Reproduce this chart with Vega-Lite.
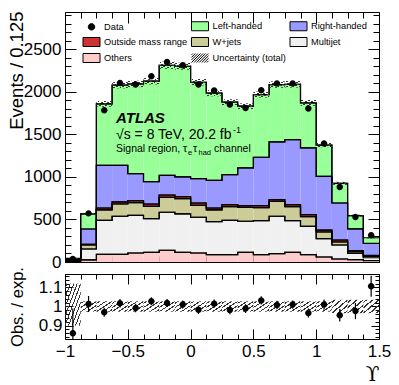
{
"$schema": "https://vega.github.io/schema/vega-lite/v6.json",
"padding": {"left": 6, "top": 10, "right": 0, "bottom": 0},
"background": "white",
"config": {
  "font": "Liberation Sans",
  "view": {"stroke": "black", "strokeWidth": 1},
  "axis": {"grid": false, "domain": false, "tickColor": "black", "tickWidth": 1, "labelColor": "black", "titleColor": "black", "labelFont": "Liberation Sans", "titleFont": "Liberation Sans", "titleFontWeight": "normal", "labelFontSize": 17, "labelFlush": false, "labelOverlap": false, "zindex": 1},
  "legend": {"orient": "none", "legendX": 17.5, "legendY": 5, "columns": 3, "symbolSize": 289, "labelFont": "Liberation Sans", "labelFontSize": 9.3, "labelColor": "black", "labelOffset": 3.5, "columnPadding": 1.5, "rowPadding": -12, "labelLimit": 300, "padding": 0, "symbolStrokeColor": "black", "symbolStrokeWidth": 1, "symbolOpacity": 1, "gridAlign": "each"}
},
"datasets": {
  "levels": [
    {"comp": "Others", "lvl": 1}, {"comp": "Multijet", "lvl": 2}, {"comp": "W+jets", "lvl": 3},
    {"comp": "Outside mass range", "lvl": 4}, {"comp": "Right-handed", "lvl": 5}, {"comp": "Left-handed", "lvl": 6}
  ],
  "bins": [
    {"lo": -1, "hi": -0.875, "c": -0.9375, "Others": 5, "Multijet": 15, "W+jets": 5, "Outside mass range": 3, "Right-handed": 8, "Left-handed": 6, "Data": 36, "ratio": 0.86, "ulo": 38, "uhi": 47, "rlo": 0.9, "rhi": 1.12, "elo": 0.78, "ehi": 0.99},
    {"lo": -0.875, "hi": -0.75, "c": -0.8125, "Others": 25, "Multijet": 128, "W+jets": 47, "Outside mass range": 8, "Right-handed": 180, "Left-handed": 177, "Data": 572, "ratio": 1.013, "ulo": 555, "uhi": 575, "rlo": 0.973, "rhi": 1.027, "elo": 0.971, "ehi": 1.055},
    {"lo": -0.75, "hi": -0.625, "c": -0.6875, "Others": 90, "Multijet": 400, "W+jets": 122, "Outside mass range": 23, "Right-handed": 501, "Left-handed": 723, "Data": 1785, "ratio": 0.97, "ulo": 1826, "uhi": 1892, "rlo": 0.973, "rhi": 1.027, "elo": 0.946, "ehi": 0.994},
    {"lo": -0.625, "hi": -0.5, "c": -0.5625, "Others": 90, "Multijet": 448, "W+jets": 144, "Outside mass range": 24, "Right-handed": 430, "Left-handed": 943, "Data": 2106, "ratio": 1.017, "ulo": 2042, "uhi": 2116, "rlo": 0.973, "rhi": 1.027, "elo": 0.995, "ehi": 1.039},
    {"lo": -0.5, "hi": -0.375, "c": -0.4375, "Others": 106, "Multijet": 443, "W+jets": 150, "Outside mass range": 23, "Right-handed": 318, "Left-handed": 1054, "Data": 2087, "ratio": 0.992, "ulo": 2056, "uhi": 2132, "rlo": 0.973, "rhi": 1.027, "elo": 0.970, "ehi": 1.014},
    {"lo": -0.375, "hi": -0.25, "c": -0.3125, "Others": 114, "Multijet": 396, "W+jets": 145, "Outside mass range": 27, "Right-handed": 263, "Left-handed": 1181, "Data": 2185, "ratio": 1.027, "ulo": 2088, "uhi": 2164, "rlo": 0.973, "rhi": 1.027, "elo": 1.006, "ehi": 1.048},
    {"lo": -0.25, "hi": -0.125, "c": -0.1875, "Others": 138, "Multijet": 447, "W+jets": 176, "Outside mass range": 27, "Right-handed": 230, "Left-handed": 1296, "Data": 2353, "ratio": 1.018, "ulo": 2272, "uhi": 2356, "rlo": 0.973, "rhi": 1.027, "elo": 0.997, "ehi": 1.039},
    {"lo": -0.125, "hi": 0, "c": -0.0625, "Others": 114, "Multijet": 451, "W+jets": 181, "Outside mass range": 23, "Right-handed": 231, "Left-handed": 1302, "Data": 2314, "ratio": 1.01, "ulo": 2261, "uhi": 2343, "rlo": 0.973, "rhi": 1.027, "elo": 0.989, "ehi": 1.031},
    {"lo": 0, "hi": 0.125, "c": 0.0625, "Others": 106, "Multijet": 420, "W+jets": 141, "Outside mass range": 27, "Right-handed": 287, "Left-handed": 1133, "Data": 2087, "ratio": 0.983, "ulo": 2076, "uhi": 2152, "rlo": 0.973, "rhi": 1.027, "elo": 0.961, "ehi": 1.005},
    {"lo": 0.125, "hi": 0.25, "c": 0.1875, "Others": 87, "Multijet": 388, "W+jets": 137, "Outside mass range": 23, "Right-handed": 325, "Left-handed": 1025, "Data": 2016, "ratio": 1.015, "ulo": 1949, "uhi": 2021, "rlo": 0.973, "rhi": 1.027, "elo": 0.993, "ehi": 1.037},
    {"lo": 0.25, "hi": 0.375, "c": 0.3125, "Others": 87, "Multijet": 403, "W+jets": 162, "Outside mass range": 23, "Right-handed": 353, "Left-handed": 852, "Data": 1852, "ratio": 0.982, "ulo": 1846, "uhi": 1914, "rlo": 0.973, "rhi": 1.027, "elo": 0.959, "ehi": 1.005},
    {"lo": 0.375, "hi": 0.5, "c": 0.4375, "Others": 114, "Multijet": 365, "W+jets": 164, "Outside mass range": 20, "Right-handed": 443, "Left-handed": 726, "Data": 1812, "ratio": 0.989, "ulo": 1799, "uhi": 1865, "rlo": 0.973, "rhi": 1.027, "elo": 0.966, "ehi": 1.012},
    {"lo": 0.5, "hi": 0.625, "c": 0.5625, "Others": 87, "Multijet": 400, "W+jets": 153, "Outside mass range": 23, "Right-handed": 569, "Left-handed": 737, "Data": 2020, "ratio": 1.032, "ulo": 1934, "uhi": 2004, "rlo": 0.973, "rhi": 1.027, "elo": 1.01, "ehi": 1.054},
    {"lo": 0.625, "hi": 0.75, "c": 0.6875, "Others": 99, "Multijet": 439, "W+jets": 176, "Outside mass range": 20, "Right-handed": 678, "Left-handed": 675, "Data": 2100, "ratio": 1.008, "ulo": 2049, "uhi": 2125, "rlo": 0.973, "rhi": 1.027, "elo": 0.986, "ehi": 1.03},
    {"lo": 0.75, "hi": 0.875, "c": 0.8125, "Others": 114, "Multijet": 373, "W+jets": 165, "Outside mass range": 23, "Right-handed": 765, "Left-handed": 650, "Data": 2099, "ratio": 1.01, "ulo": 2052, "uhi": 2128, "rlo": 0.973, "rhi": 1.027, "elo": 0.988, "ehi": 1.032},
    {"lo": 0.875, "hi": 1, "c": 0.9375, "Others": 87, "Multijet": 333, "W+jets": 114, "Outside mass range": 24, "Right-handed": 783, "Left-handed": 530, "Data": 1805, "ratio": 0.966, "ulo": 1837, "uhi": 1905, "rlo": 0.973, "rhi": 1.027, "elo": 0.943, "ehi": 0.989},
    {"lo": 1, "hi": 1.125, "c": 1.0625, "Others": 59, "Multijet": 216, "W+jets": 78, "Outside mass range": 23, "Right-handed": 632, "Left-handed": 367, "Data": 1393, "ratio": 1.01, "ulo": 1350, "uhi": 1400, "rlo": 0.973, "rhi": 1.027, "elo": 0.983, "ehi": 1.037},
    {"lo": 1.125, "hi": 1.25, "c": 1.1875, "Others": 35, "Multijet": 165, "W+jets": 35, "Outside mass range": 24, "Right-handed": 435, "Left-handed": 231, "Data": 882, "ratio": 0.954, "ulo": 907, "uhi": 943, "rlo": 0.965, "rhi": 1.035, "elo": 0.921, "ehi": 0.987},
    {"lo": 1.25, "hi": 1.375, "c": 1.3125, "Others": 28, "Multijet": 72, "W+jets": 18, "Outside mass range": 16, "Right-handed": 256, "Left-handed": 155, "Data": 530, "ratio": 0.976, "ulo": 534, "uhi": 556, "rlo": 0.965, "rhi": 1.035, "elo": 0.934, "ehi": 1.018},
    {"lo": 1.375, "hi": 1.5, "c": 1.4375, "Others": 16, "Multijet": 34, "W+jets": 17, "Outside mass range": 12, "Right-handed": 141, "Left-handed": 65, "Data": 315, "ratio": 1.106, "ulo": 278, "uhi": 292, "rlo": 0.965, "rhi": 1.035, "elo": 1.051, "ehi": 1.161}
  ]
},
"spacing": 12,
"bounds": "flush",
"vconcat": [
 {
  "width": 314, "height": 250,
  "resolve": {"axis": {"x": "independent", "y": "independent"}},
  "layer": [
   {
    "data": {"name": "bins"},
    "transform": [
      {"fold": ["Others", "Multijet", "W+jets", "Outside mass range", "Right-handed", "Left-handed"], "as": ["comp", "n"]},
      {"lookup": "comp", "from": {"data": {"name": "levels"}, "key": "comp", "fields": ["lvl"]}},
      {"stack": "n", "groupby": ["lo"], "sort": [{"field": "lvl", "order": "ascending"}], "as": ["y0", "y1"]}
    ],
    "mark": {"type": "rect"},
    "encoding": {
      "x": {"field": "lo", "type": "quantitative", "scale": {"domain": [-1, 1.5], "nice": false, "zero": false}, "axis": {"orient": "bottom", "values": [-1, -0.5, 0, 0.5, 1, 1.5], "labels": false, "tickSize": -11, "title": null}},
      "x2": {"field": "hi"},
      "y": {"field": "y0", "type": "quantitative", "scale": {"domain": [0, 2940], "nice": false, "zero": false}, "axis": {"orient": "left", "values": [0, 500, 1000, 1500, 2000, 2500], "format": "d", "tickSize": -11, "labelPadding": 15, "title": "Events / 0.125", "titleFontSize": 18.5, "titleX": -43, "titleY": -1, "titleAlign": "right", "titleBaseline": "alphabetic", "titleAngle": 270}},
      "y2": {"field": "y1"},
      "fill": {"field": "comp", "type": "nominal", "title": null, "scale": {"domain": ["Data", "Outside mass range", "Others", "Left-handed", "W+jets", "Uncertainty (total)", "Right-handed", "Multijet"], "range": ["black", "#cc3333", "#ffcccc", "#99ff99", "#cccc99", "transparent", "#9999ff", "#f0f0f0"]}}
    }
   },
   {
    "data": {"name": "bins"},
    "transform": [
      {"fold": ["Others", "Multijet", "W+jets", "Outside mass range", "Right-handed", "Left-handed"], "as": ["comp", "n"]},
      {"lookup": "comp", "from": {"data": {"name": "levels"}, "key": "comp", "fields": ["lvl"]}},
      {"stack": "n", "groupby": ["lo"], "sort": [{"field": "lvl", "order": "ascending"}], "as": ["y0", "y1"]}
    ],
    "mark": {"type": "line", "interpolate": "step-after", "color": "black", "strokeWidth": 1.2},
    "encoding": {
      "x": {"field": "lo", "type": "quantitative", "scale": {"domain": [-1, 1.5], "nice": false, "zero": false}, "axis": {"orient": "bottom", "values": [-0.875, -0.75, -0.625, -0.375, -0.25, -0.125, 0.125, 0.25, 0.375, 0.625, 0.75, 0.875, 1.125, 1.25, 1.375], "labels": false, "tickSize": -6, "title": null}},
      "y": {"field": "y1", "type": "quantitative", "scale": {"domain": [0, 2940], "nice": false, "zero": false}, "axis": {"orient": "left", "values": [100, 200, 300, 400, 600, 700, 800, 900, 1100, 1200, 1300, 1400, 1600, 1700, 1800, 1900, 2100, 2200, 2300, 2400, 2600, 2700, 2800, 2900], "labels": false, "tickSize": -6, "title": null}},
      "detail": {"field": "comp", "type": "nominal"}
    }
   },
   {
    "data": {"name": "bins"},
    "transform": [
      {"fold": ["Others", "Multijet", "W+jets", "Outside mass range", "Right-handed", "Left-handed"], "as": ["comp", "n"]},
      {"lookup": "comp", "from": {"data": {"name": "levels"}, "key": "comp", "fields": ["lvl"]}},
      {"stack": "n", "groupby": ["lo"], "sort": [{"field": "lvl", "order": "ascending"}], "as": ["y0", "y1"]}
    ],
    "mark": {"type": "line", "interpolate": "step-before", "color": "black", "strokeWidth": 1.2},
    "encoding": {
      "x": {"field": "hi", "type": "quantitative", "scale": {"domain": [-1, 1.5], "nice": false, "zero": false}, "axis": {"orient": "top", "values": [-1, -0.5, 0, 0.5, 1, 1.5], "labels": false, "tickSize": -11, "title": null}},
      "y": {"field": "y1", "type": "quantitative", "scale": {"domain": [0, 2940], "nice": false, "zero": false}, "axis": {"orient": "right", "values": [0, 500, 1000, 1500, 2000, 2500], "labels": false, "tickSize": -11, "title": null}},
      "detail": {"field": "comp", "type": "nominal"}
    }
   },
   {
    "data": {"name": "bins"},
    "mark": {"type": "rect", "fill": {"gradient": "linear", "x1": 0, "y1": 0, "x2": 1, "y2": 1, "stops": [
      {"offset": 0, "color": "rgba(255,255,255,0)"}, {"offset": 0.07, "color": "rgba(255,255,255,0)"}, {"offset": 0.07, "color": "#333"}, {"offset": 0.13, "color": "#333"}, {"offset": 0.13, "color": "rgba(255,255,255,0)"},
      {"offset": 0.27, "color": "rgba(255,255,255,0)"}, {"offset": 0.27, "color": "#333"}, {"offset": 0.33, "color": "#333"}, {"offset": 0.33, "color": "rgba(255,255,255,0)"},
      {"offset": 0.47, "color": "rgba(255,255,255,0)"}, {"offset": 0.47, "color": "#333"}, {"offset": 0.53, "color": "#333"}, {"offset": 0.53, "color": "rgba(255,255,255,0)"},
      {"offset": 0.67, "color": "rgba(255,255,255,0)"}, {"offset": 0.67, "color": "#333"}, {"offset": 0.73, "color": "#333"}, {"offset": 0.73, "color": "rgba(255,255,255,0)"},
      {"offset": 0.87, "color": "rgba(255,255,255,0)"}, {"offset": 0.87, "color": "#333"}, {"offset": 0.93, "color": "#333"}, {"offset": 0.93, "color": "rgba(255,255,255,0)"}, {"offset": 1, "color": "rgba(255,255,255,0)"}]}},
    "encoding": {
      "x": {"field": "lo", "type": "quantitative", "scale": {"domain": [-1, 1.5], "nice": false, "zero": false}, "axis": {"orient": "top", "values": [-0.875, -0.75, -0.625, -0.375, -0.25, -0.125, 0.125, 0.25, 0.375, 0.625, 0.75, 0.875, 1.125, 1.25, 1.375], "labels": false, "tickSize": -6, "title": null}},
      "x2": {"field": "hi"},
      "y": {"field": "ulo", "type": "quantitative", "scale": {"domain": [0, 2940], "nice": false, "zero": false}, "axis": {"orient": "right", "values": [100, 200, 300, 400, 600, 700, 800, 900, 1100, 1200, 1300, 1400, 1600, 1700, 1800, 1900, 2100, 2200, 2300, 2400, 2600, 2700, 2800, 2900], "labels": false, "tickSize": -6, "title": null}},
      "y2": {"field": "uhi"}
    }
   },
   {
    "data": {"name": "bins"},
    "transform": [{"fold": ["Data"], "as": ["comp", "v"]}],
    "mark": {"type": "point", "filled": true, "size": 289, "opacity": 1},
    "encoding": {
      "x": {"field": "c", "type": "quantitative", "scale": {"domain": [-1, 1.5], "nice": false, "zero": false}, "axis": null},
      "y": {"field": "v", "type": "quantitative", "scale": {"domain": [0, 2940], "nice": false, "zero": false}, "axis": null},
      "fill": {"field": "comp", "type": "nominal", "title": null,
        "scale": {"domain": ["Data", "Outside mass range", "Others", "Left-handed", "W+jets", "Uncertainty (total)", "Right-handed", "Multijet"], "range": ["black", "#cc3333", "#ffcccc", "#99ff99", "#cccc99", "transparent", "#9999ff", "#f0f0f0"]},
        "legend": {"encode": {"symbols": {"update": {"stroke": {"value": "black"}, "strokeWidth": {"value": 1}, "opacity": {"value": 1}}}}}},
      "shape": {"field": "comp", "type": "nominal", "title": null,
        "scale": {"domain": ["Data", "Outside mass range", "Others", "Left-handed", "W+jets", "Uncertainty (total)", "Right-handed", "Multijet"], "range": [
          "M-0.38,0A0.38,0.38,0,1,1,0.38,0A0.38,0.38,0,1,1,-0.38,0Z",
          "M-1,-0.53L1,-0.53L1,0.53L-1,0.53Z", "M-1,-0.53L1,-0.53L1,0.53L-1,0.53Z", "M-1,-0.53L1,-0.53L1,0.53L-1,0.53Z",
          "M-1,-0.53L1,-0.53L1,0.53L-1,0.53Z",
          "M-1,-0.37L-0.84,-0.53M-1,-0.07L-0.54,-0.53M-1,0.23L-0.24,-0.53M-1,0.53L0.06,-0.53M-0.7,0.53L0.36,-0.53M-0.4,0.53L0.66,-0.53M-0.1,0.53L0.96,-0.53M0.2,0.53L1,-0.27M0.5,0.53L1,0.03M0.8,0.53L1,0.33",
          "M-1,-0.53L1,-0.53L1,0.53L-1,0.53Z", "M-1,-0.53L1,-0.53L1,0.53L-1,0.53Z"]},
        "legend": {"encode": {"symbols": {"update": {"stroke": {"value": "black"}, "strokeWidth": {"value": 1}, "opacity": {"value": 1}}}}}}
    }
   },
   {
    "data": {"values": [{}]},
    "mark": {"type": "text", "text": "ATLAS", "align": "left", "baseline": "alphabetic", "font": "Liberation Sans", "fontSize": 15, "fontStyle": "italic", "fontWeight": "bold", "color": "black"},
    "encoding": {"x": {"datum": -0.594, "type": "quantitative", "scale": {"domain": [-1, 1.5], "nice": false, "zero": false}, "axis": null}, "y": {"datum": 1635, "type": "quantitative", "scale": {"domain": [0, 2940], "nice": false, "zero": false}, "axis": null}}
   },
   {
    "data": {"values": [{}]},
    "mark": {"type": "text", "text": "√s = 8 TeV, 20.2 fb", "align": "left", "baseline": "alphabetic", "font": "Liberation Sans", "fontSize": 14, "color": "black"},
    "encoding": {"x": {"datum": -0.594, "type": "quantitative", "scale": {"domain": [-1, 1.5], "nice": false, "zero": false}, "axis": null}, "y": {"datum": 1444, "type": "quantitative", "scale": {"domain": [0, 2940], "nice": false, "zero": false}, "axis": null}}
   },
   {
    "data": {"values": [{}]},
    "mark": {"type": "text", "text": "-1", "align": "left", "baseline": "alphabetic", "font": "Liberation Sans", "fontSize": 9, "color": "black", "dx": 117, "dy": -6},
    "encoding": {"x": {"datum": -0.594, "type": "quantitative", "scale": {"domain": [-1, 1.5], "nice": false, "zero": false}, "axis": null}, "y": {"datum": 1444, "type": "quantitative", "scale": {"domain": [0, 2940], "nice": false, "zero": false}, "axis": null}}
   },
   {
    "data": {"values": [{}]},
    "mark": {"type": "text", "text": "Signal region, τ", "align": "left", "baseline": "alphabetic", "font": "Liberation Sans", "fontSize": 10.5, "color": "black"},
    "encoding": {"x": {"datum": -0.594, "type": "quantitative", "scale": {"domain": [-1, 1.5], "nice": false, "zero": false}, "axis": null}, "y": {"datum": 1290, "type": "quantitative", "scale": {"domain": [0, 2940], "nice": false, "zero": false}, "axis": null}}
   },
   {
    "data": {"values": [{}]},
    "mark": {"type": "text", "text": "e", "align": "left", "baseline": "alphabetic", "font": "Liberation Sans", "fontSize": 7.5, "color": "black", "dx": 72, "dy": 3},
    "encoding": {"x": {"datum": -0.594, "type": "quantitative", "scale": {"domain": [-1, 1.5], "nice": false, "zero": false}, "axis": null}, "y": {"datum": 1290, "type": "quantitative", "scale": {"domain": [0, 2940], "nice": false, "zero": false}, "axis": null}}
   },
   {
    "data": {"values": [{}]},
    "mark": {"type": "text", "text": "τ", "align": "left", "baseline": "alphabetic", "font": "Liberation Sans", "fontSize": 10.5, "color": "black", "dx": 77},
    "encoding": {"x": {"datum": -0.594, "type": "quantitative", "scale": {"domain": [-1, 1.5], "nice": false, "zero": false}, "axis": null}, "y": {"datum": 1290, "type": "quantitative", "scale": {"domain": [0, 2940], "nice": false, "zero": false}, "axis": null}}
   },
   {
    "data": {"values": [{}]},
    "mark": {"type": "text", "text": "had", "align": "left", "baseline": "alphabetic", "font": "Liberation Sans", "fontSize": 7.5, "color": "black", "dx": 82.5, "dy": 3},
    "encoding": {"x": {"datum": -0.594, "type": "quantitative", "scale": {"domain": [-1, 1.5], "nice": false, "zero": false}, "axis": null}, "y": {"datum": 1290, "type": "quantitative", "scale": {"domain": [0, 2940], "nice": false, "zero": false}, "axis": null}}
   },
   {
    "data": {"values": [{}]},
    "mark": {"type": "text", "text": "channel", "align": "left", "baseline": "alphabetic", "font": "Liberation Sans", "fontSize": 10.5, "color": "black", "dx": 98},
    "encoding": {"x": {"datum": -0.594, "type": "quantitative", "scale": {"domain": [-1, 1.5], "nice": false, "zero": false}, "axis": null}, "y": {"datum": 1290, "type": "quantitative", "scale": {"domain": [0, 2940], "nice": false, "zero": false}, "axis": null}}
   }
  ]
 },
 {
  "width": 314, "height": 65,
  "data": {"name": "bins"},
  "resolve": {"axis": {"x": "independent", "y": "independent"}},
  "layer": [
   {
    "transform": [{"filter": "datum.lo > -0.95"}],
    "mark": {"type": "rect", "fill": {"gradient": "linear", "x1": 0, "y1": 0, "x2": 1, "y2": 1, "stops": [
      {"offset": 0, "color": "rgba(255,255,255,0)"}, {"offset": 0.07, "color": "rgba(255,255,255,0)"}, {"offset": 0.07, "color": "#333"}, {"offset": 0.13, "color": "#333"}, {"offset": 0.13, "color": "rgba(255,255,255,0)"},
      {"offset": 0.27, "color": "rgba(255,255,255,0)"}, {"offset": 0.27, "color": "#333"}, {"offset": 0.33, "color": "#333"}, {"offset": 0.33, "color": "rgba(255,255,255,0)"},
      {"offset": 0.47, "color": "rgba(255,255,255,0)"}, {"offset": 0.47, "color": "#333"}, {"offset": 0.53, "color": "#333"}, {"offset": 0.53, "color": "rgba(255,255,255,0)"},
      {"offset": 0.67, "color": "rgba(255,255,255,0)"}, {"offset": 0.67, "color": "#333"}, {"offset": 0.73, "color": "#333"}, {"offset": 0.73, "color": "rgba(255,255,255,0)"},
      {"offset": 0.87, "color": "rgba(255,255,255,0)"}, {"offset": 0.87, "color": "#333"}, {"offset": 0.93, "color": "#333"}, {"offset": 0.93, "color": "rgba(255,255,255,0)"}, {"offset": 1, "color": "rgba(255,255,255,0)"}]}},
    "encoding": {
      "x": {"field": "lo", "type": "quantitative", "scale": {"domain": [-1, 1.5], "nice": false, "zero": false}, "axis": {"orient": "bottom", "values": [-1, -0.5, 0, 0.5, 1, 1.5], "format": "~g", "tickSize": -10, "labelPadding": 14, "title": "ϒ", "titleFont": "DejaVu Serif", "titleFontSize": 20, "titleX": 314, "titleY": 41, "titleAlign": "right", "titleBaseline": "alphabetic", "titleAngle": 0}},
      "x2": {"field": "hi"},
      "y": {"field": "rlo", "type": "quantitative", "scale": {"domain": [0.83, 1.17], "nice": false, "zero": false}, "axis": {"orient": "left", "values": [0.9, 1, 1.1], "format": "~g", "tickSize": -8, "labelPadding": 11, "title": "Obs. / exp.", "titleFontSize": 16.5, "titleX": -43, "titleY": 32.5, "titleAlign": "center", "titleBaseline": "alphabetic", "titleAngle": 270}},
      "y2": {"field": "rhi"}
    }
   },
   {
    "transform": [{"filter": "datum.lo < -0.95"}],
    "mark": {"type": "rect", "fill": {"gradient": "linear", "x1": 0, "y1": 0, "x2": 1, "y2": 1, "stops": [
      {"offset": 0, "color": "rgba(255,255,255,0)"}, {"offset": 0.04, "color": "rgba(255,255,255,0)"}, {"offset": 0.04, "color": "#333"}, {"offset": 0.073, "color": "#333"}, {"offset": 0.073, "color": "rgba(255,255,255,0)"},
      {"offset": 0.151, "color": "rgba(255,255,255,0)"}, {"offset": 0.151, "color": "#333"}, {"offset": 0.184, "color": "#333"}, {"offset": 0.184, "color": "rgba(255,255,255,0)"},
      {"offset": 0.262, "color": "rgba(255,255,255,0)"}, {"offset": 0.262, "color": "#333"}, {"offset": 0.295, "color": "#333"}, {"offset": 0.295, "color": "rgba(255,255,255,0)"},
      {"offset": 0.373, "color": "rgba(255,255,255,0)"}, {"offset": 0.373, "color": "#333"}, {"offset": 0.406, "color": "#333"}, {"offset": 0.406, "color": "rgba(255,255,255,0)"},
      {"offset": 0.484, "color": "rgba(255,255,255,0)"}, {"offset": 0.484, "color": "#333"}, {"offset": 0.517, "color": "#333"}, {"offset": 0.517, "color": "rgba(255,255,255,0)"},
      {"offset": 0.596, "color": "rgba(255,255,255,0)"}, {"offset": 0.596, "color": "#333"}, {"offset": 0.629, "color": "#333"}, {"offset": 0.629, "color": "rgba(255,255,255,0)"},
      {"offset": 0.707, "color": "rgba(255,255,255,0)"}, {"offset": 0.707, "color": "#333"}, {"offset": 0.74, "color": "#333"}, {"offset": 0.74, "color": "rgba(255,255,255,0)"},
      {"offset": 0.818, "color": "rgba(255,255,255,0)"}, {"offset": 0.818, "color": "#333"}, {"offset": 0.851, "color": "#333"}, {"offset": 0.851, "color": "rgba(255,255,255,0)"},
      {"offset": 0.929, "color": "rgba(255,255,255,0)"}, {"offset": 0.929, "color": "#333"}, {"offset": 0.962, "color": "#333"}, {"offset": 0.962, "color": "rgba(255,255,255,0)"}, {"offset": 1, "color": "rgba(255,255,255,0)"}]}},
    "encoding": {
      "x": {"field": "lo", "type": "quantitative", "scale": {"domain": [-1, 1.5], "nice": false, "zero": false}, "axis": {"orient": "bottom", "values": [-0.875, -0.75, -0.625, -0.375, -0.25, -0.125, 0.125, 0.25, 0.375, 0.625, 0.75, 0.875, 1.125, 1.25, 1.375], "labels": false, "tickSize": -5, "title": null}},
      "x2": {"field": "hi"},
      "y": {"field": "rlo", "type": "quantitative", "scale": {"domain": [0.83, 1.17], "nice": false, "zero": false}, "axis": {"orient": "left", "values": [0.84, 0.86, 0.88, 0.92, 0.94, 0.96, 0.98, 1.02, 1.04, 1.06, 1.08, 1.12, 1.14, 1.16], "labels": false, "tickSize": -4, "title": null}},
      "y2": {"field": "rhi"}
    }
   },
   {
    "mark": {"type": "rule", "color": "black", "strokeWidth": 1.2, "clip": true},
    "encoding": {
      "x": {"field": "c", "type": "quantitative", "scale": {"domain": [-1, 1.5], "nice": false, "zero": false}, "axis": {"orient": "top", "values": [-1, -0.5, 0, 0.5, 1, 1.5], "labels": false, "tickSize": -10, "title": null}},
      "y": {"field": "elo", "type": "quantitative", "scale": {"domain": [0.83, 1.17], "nice": false, "zero": false}, "axis": {"orient": "right", "values": [0.9, 1, 1.1], "labels": false, "tickSize": -8, "title": null}},
      "y2": {"field": "ehi"}
    }
   },
   {
    "mark": {"type": "point", "filled": true, "size": 289, "shape": "M-0.38,0A0.38,0.38,0,1,1,0.38,0A0.38,0.38,0,1,1,-0.38,0Z", "color": "black", "opacity": 1, "clip": true},
    "encoding": {
      "x": {"field": "c", "type": "quantitative", "scale": {"domain": [-1, 1.5], "nice": false, "zero": false}, "axis": {"orient": "top", "values": [-0.875, -0.75, -0.625, -0.375, -0.25, -0.125, 0.125, 0.25, 0.375, 0.625, 0.75, 0.875, 1.125, 1.25, 1.375], "labels": false, "tickSize": -5, "title": null}},
      "y": {"field": "ratio", "type": "quantitative", "scale": {"domain": [0.83, 1.17], "nice": false, "zero": false}, "axis": {"orient": "right", "values": [0.84, 0.86, 0.88, 0.92, 0.94, 0.96, 0.98, 1.02, 1.04, 1.06, 1.08, 1.12, 1.14, 1.16], "labels": false, "tickSize": -4, "title": null}}
    }
   }
  ]
 }
]
}
